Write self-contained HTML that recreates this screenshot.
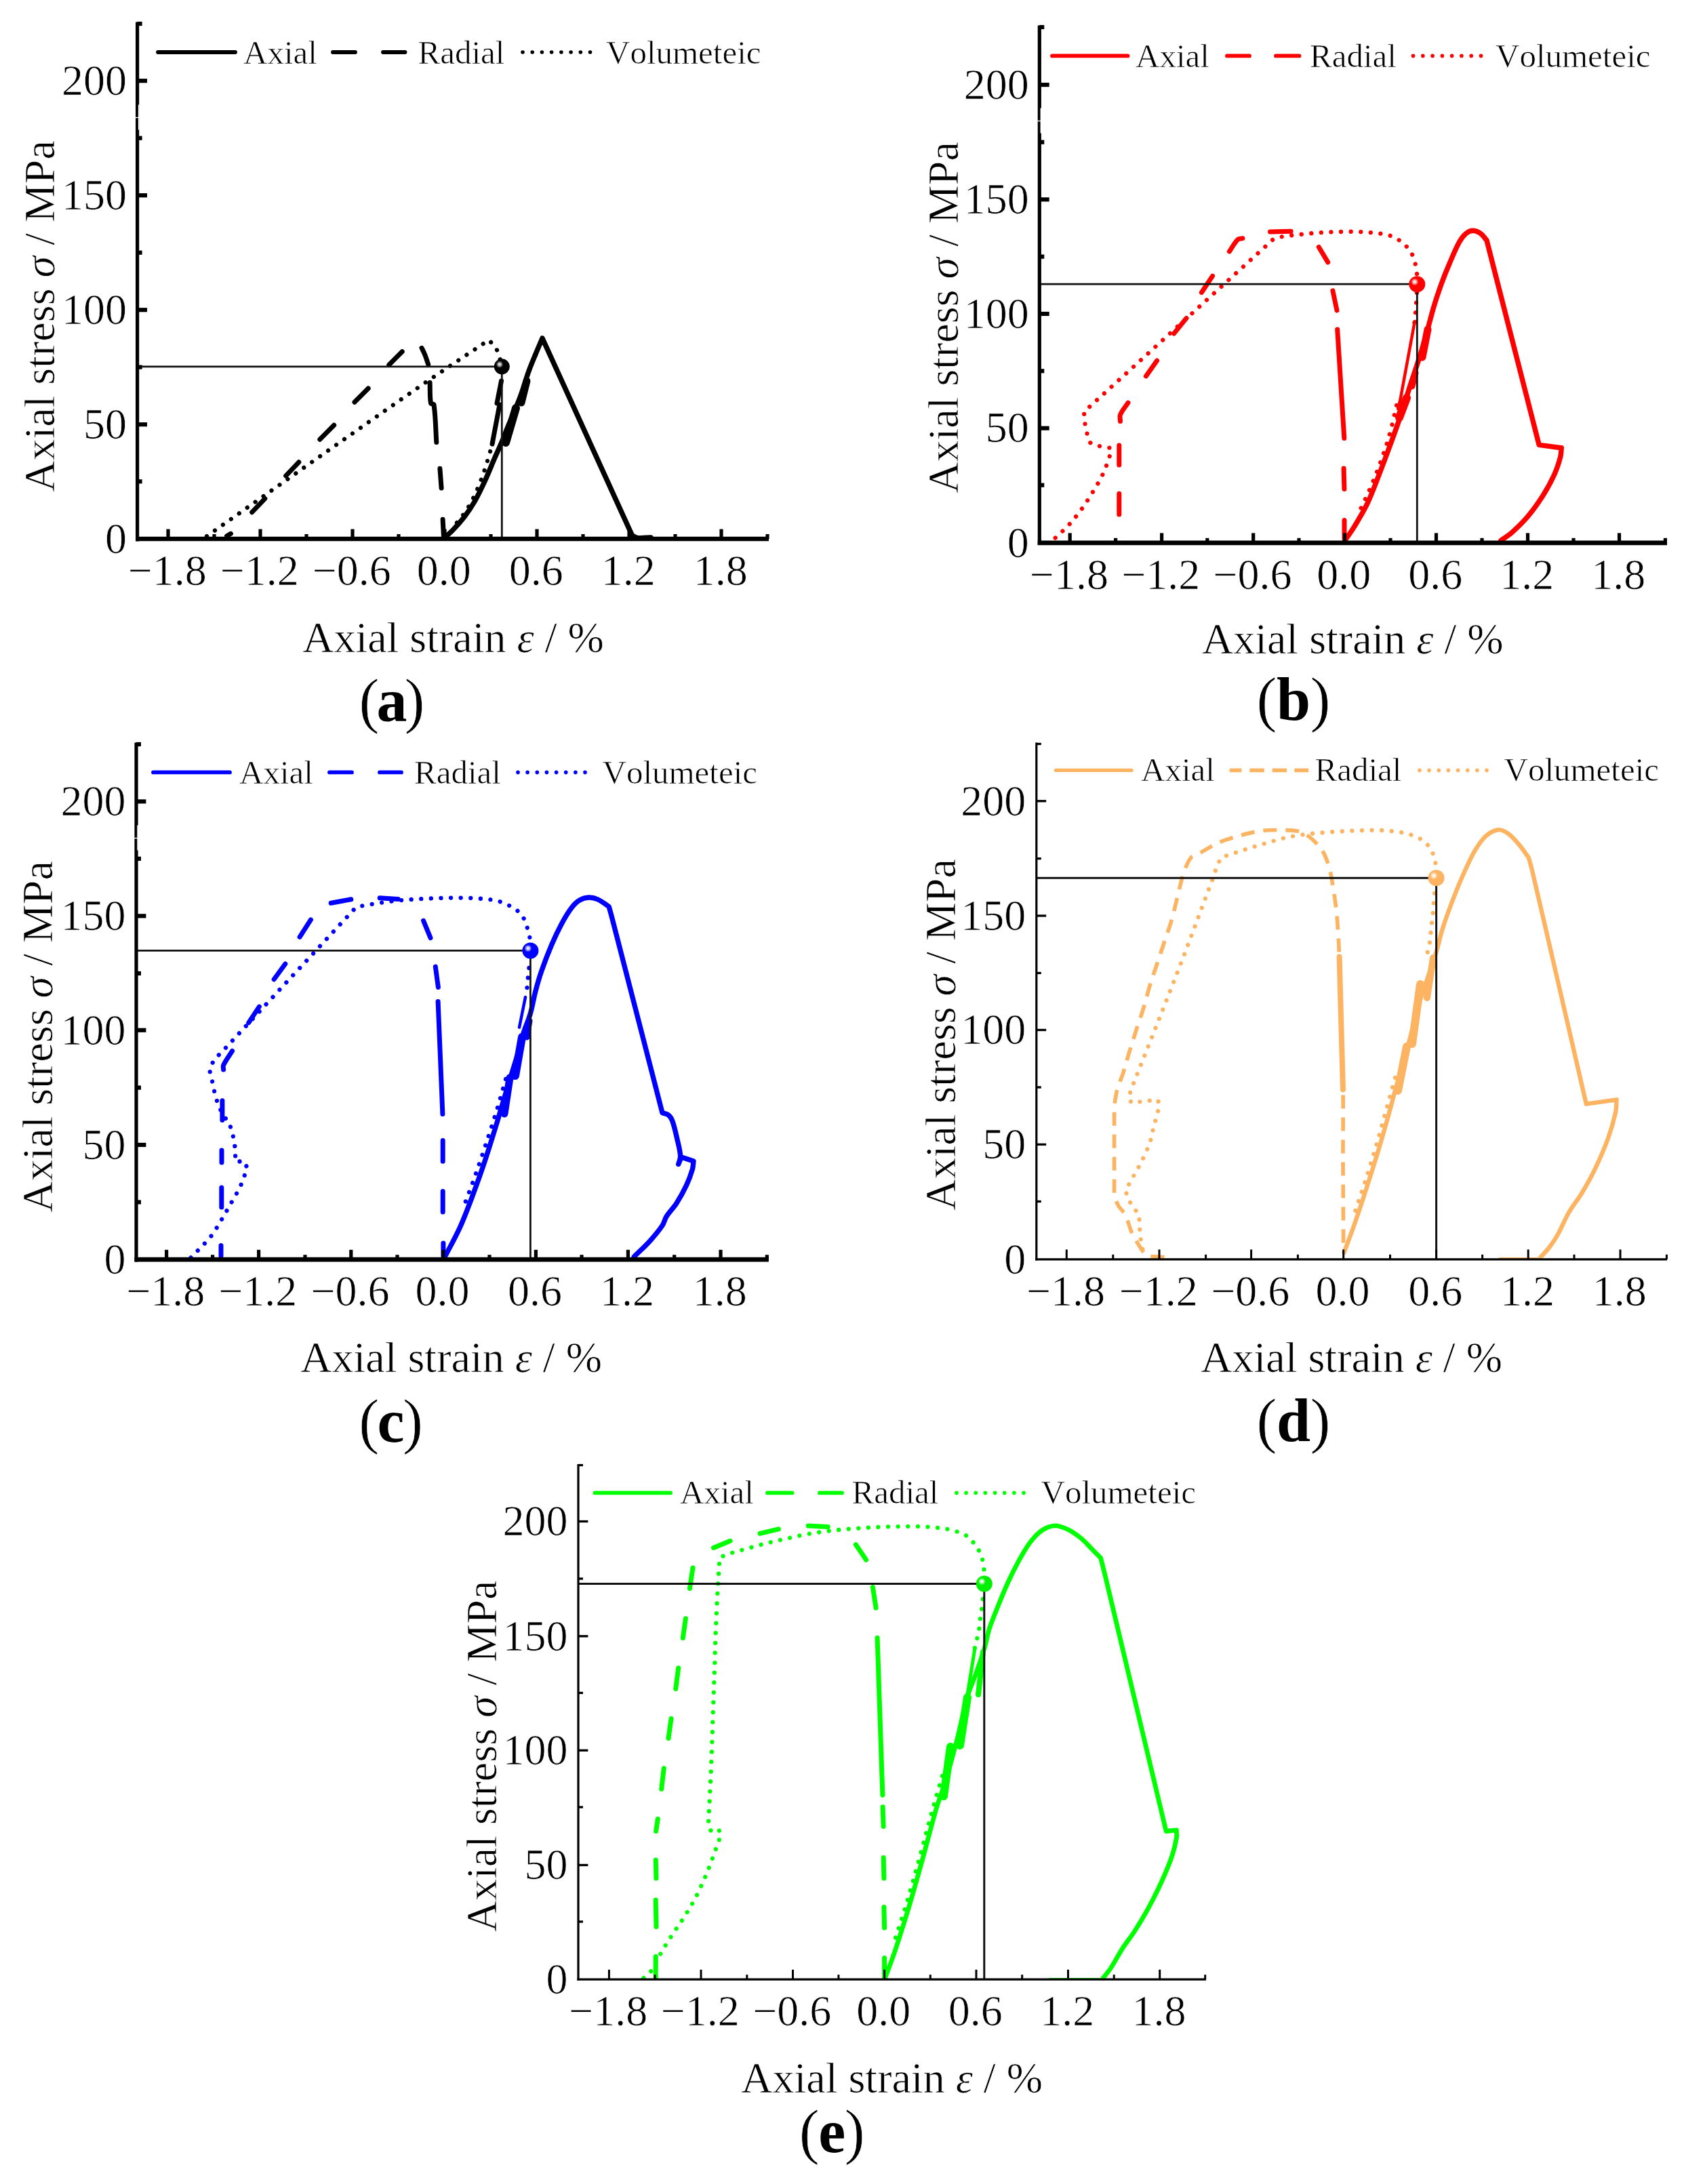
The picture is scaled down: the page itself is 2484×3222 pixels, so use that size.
<!DOCTYPE html>
<html lang="en"><head><meta charset="utf-8"><title>Stress-strain curves</title>
<style>
html,body{margin:0;padding:0;background:#fff;}
body{width:2484px;height:3222px;overflow:hidden;}
svg{display:block;filter:blur(0.55px);font-family:"Liberation Serif","DejaVu Serif",serif;fill:#000;font-kerning:none;font-variant-ligatures:none;}
text{stroke:#fff;stroke-width:0.7px;paint-order:fill stroke;}
</style></head><body>
<svg width="2484" height="3222" viewBox="0 0 2484 3222">
<rect width="2484" height="3222" fill="#fff"/>
<defs><radialGradient id="ga" cx="0.355" cy="0.36" r="0.75"><stop offset="0" stop-color="#f4f4f4"/><stop offset="0.11" stop-color="#c0c0c0"/><stop offset="0.31" stop-color="#000000"/><stop offset="1" stop-color="#000000"/></radialGradient><radialGradient id="gb" cx="0.355" cy="0.36" r="0.75"><stop offset="0" stop-color="#ffffff"/><stop offset="0.11" stop-color="#ffd0d0"/><stop offset="0.31" stop-color="#ff0000"/><stop offset="1" stop-color="#ff0000"/></radialGradient><radialGradient id="gc" cx="0.355" cy="0.36" r="0.75"><stop offset="0" stop-color="#ffffff"/><stop offset="0.11" stop-color="#d0d0ff"/><stop offset="0.31" stop-color="#0000ff"/><stop offset="1" stop-color="#0000ff"/></radialGradient><radialGradient id="gd" cx="0.355" cy="0.36" r="0.75"><stop offset="0" stop-color="#ffffff"/><stop offset="0.11" stop-color="#fff0e0"/><stop offset="0.31" stop-color="#fdb462"/><stop offset="1" stop-color="#fdb462"/></radialGradient><radialGradient id="ge" cx="0.355" cy="0.36" r="0.75"><stop offset="0" stop-color="#ffffff"/><stop offset="0.11" stop-color="#d8ffd8"/><stop offset="0.31" stop-color="#00f000"/><stop offset="1" stop-color="#00f000"/></radialGradient></defs>
<g id="panel-a">
<path d="M305,791C408.3,718.3 511.3,645.1 615,573C650,548.7 685.7,525.4 721,501.6C724.2,505.2 728,508.3 730.7,512.3C733.1,515.9 734.6,520 736,524.1C737.5,528.6 738.3,533.4 739.5,538" fill="none" stroke="#000000" stroke-width="6.3" stroke-linecap="round" stroke-linejoin="round" stroke-dasharray="0.01 14.6"/>
<path d="M727,652C724.3,661.3 721.9,670.7 719,680C716.2,689.1 713.4,698.1 710,707C706.1,717.2 701.9,727.3 697,737C692.9,745 688.2,752.7 683,760C678.5,766.4 673,772 668,778" fill="none" stroke="#000000" stroke-width="6.3" stroke-linecap="round" stroke-linejoin="round" stroke-dasharray="0.01 14.6"/>
<path d="M726,655L737,597" fill="none" stroke="#000000" stroke-width="7" stroke-linecap="round"/>
<path d="M733,595L739.5,562" fill="none" stroke="#000000" stroke-width="7" stroke-linecap="round"/>
<path d="M334.6,790.7L340.4,787.3" fill="none" stroke="#000000" stroke-width="7" stroke-linecap="round" stroke-linejoin="round"/>
<path d="M371.7,755.7L390.8,735.6" fill="none" stroke="#000000" stroke-width="7" stroke-linecap="round" stroke-linejoin="round"/>
<path d="M421.7,701.9L440.8,681.8" fill="none" stroke="#000000" stroke-width="7" stroke-linecap="round" stroke-linejoin="round"/>
<path d="M471.8,648.2L492.7,627.3" fill="none" stroke="#000000" stroke-width="7" stroke-linecap="round" stroke-linejoin="round"/>
<path d="M523,593.2L543.2,573" fill="none" stroke="#000000" stroke-width="7" stroke-linecap="round" stroke-linejoin="round"/>
<path d="M573.8,538.2L593.2,518.8" fill="none" stroke="#000000" stroke-width="7" stroke-linecap="round" stroke-linejoin="round"/>
<path d="M622,513.3C623.7,516.8 625.6,520.3 627,524C628.8,528.5 630.1,533.1 631.7,537.6" fill="none" stroke="#000000" stroke-width="7" stroke-linecap="round" stroke-linejoin="round"/>
<path d="M634.1,564.5C634.6,574.7 633.7,585 635.5,595C635.8,596.6 639.8,595.4 640,597C642.7,615.4 642.6,634 643.8,652.5" fill="none" stroke="#000000" stroke-width="7" stroke-linecap="round" stroke-linejoin="round"/>
<path d="M648.9,691.2L651.1,720" fill="none" stroke="#000000" stroke-width="7" stroke-linecap="round" stroke-linejoin="round"/>
<path d="M653.1,766.2L654.4,790.5" fill="none" stroke="#000000" stroke-width="7" stroke-linecap="round" stroke-linejoin="round"/>
<path d="M655.5,793C659.5,789.5 663.8,786.3 667.5,782.5C673.7,776.1 679.6,769.5 685,762.5C690.5,755.3 695.5,747.8 700,740C705.5,730.3 710.3,720.2 715,710C720.3,698.5 724.9,686.6 730,675C733.3,667.5 736.8,660.1 740,652.5C743.5,644.2 746.6,635.8 750,627.5C755.8,613.3 762.1,599.3 767.5,585C772.1,572.7 775.5,559.9 780,547.5C783,539.1 786.6,530.8 790,522.5C793.2,514.6 796.7,506.8 800,499L932.5,790C935,791.2 937.3,793.2 940,793.5C946.6,794.2 953.3,793.2 960,793" fill="none" stroke="#000000" stroke-width="7.5" stroke-linejoin="round" stroke-linecap="round"/>
<path d="M746,653L761,602" fill="none" stroke="#000000" stroke-width="12" stroke-linecap="round" stroke-linejoin="round"/>
<path d="M769,594L777,562" fill="none" stroke="#000000" stroke-width="11" stroke-linecap="round" stroke-linejoin="round"/>
<line x1="202.6" y1="540.8" x2="740.3" y2="540.8" stroke="#111" stroke-width="2.8" />
<line x1="740.3" y1="540.8" x2="740.3" y2="795" stroke="#111" stroke-width="2.8" />
<line x1="202.6" y1="32.5" x2="202.6" y2="798.4" stroke="#000" stroke-width="5.2" />
<line x1="200" y1="795" x2="1134" y2="795" stroke="#000" stroke-width="6.7" />
<line x1="248" y1="795" x2="248" y2="780.6" stroke="#000" stroke-width="5.2" />
<line x1="384" y1="795" x2="384" y2="780.6" stroke="#000" stroke-width="5.2" />
<line x1="520" y1="795" x2="520" y2="780.6" stroke="#000" stroke-width="5.2" />
<line x1="656" y1="795" x2="656" y2="780.6" stroke="#000" stroke-width="5.2" />
<line x1="792" y1="795" x2="792" y2="780.6" stroke="#000" stroke-width="5.2" />
<line x1="928" y1="795" x2="928" y2="780.6" stroke="#000" stroke-width="5.2" />
<line x1="1064" y1="795" x2="1064" y2="780.6" stroke="#000" stroke-width="5.2" />
<line x1="316" y1="795" x2="316" y2="788" stroke="#000" stroke-width="5.2" />
<line x1="452" y1="795" x2="452" y2="788" stroke="#000" stroke-width="5.2" />
<line x1="588" y1="795" x2="588" y2="788" stroke="#000" stroke-width="5.2" />
<line x1="724" y1="795" x2="724" y2="788" stroke="#000" stroke-width="5.2" />
<line x1="860" y1="795" x2="860" y2="788" stroke="#000" stroke-width="5.2" />
<line x1="996" y1="795" x2="996" y2="788" stroke="#000" stroke-width="5.2" />
<line x1="1132" y1="795" x2="1132" y2="788" stroke="#000" stroke-width="5.2" />
<line x1="202.6" y1="626.2" x2="217" y2="626.2" stroke="#000" stroke-width="6.2" />
<line x1="202.6" y1="457.2" x2="217" y2="457.2" stroke="#000" stroke-width="6.2" />
<line x1="202.6" y1="288.2" x2="217" y2="288.2" stroke="#000" stroke-width="6.2" />
<line x1="202.6" y1="119.2" x2="217" y2="119.2" stroke="#000" stroke-width="6.2" />
<line x1="202.6" y1="710.3" x2="209.6" y2="710.3" stroke="#000" stroke-width="6.2" />
<line x1="202.6" y1="541.6" x2="209.6" y2="541.6" stroke="#000" stroke-width="6.2" />
<line x1="202.6" y1="372.7" x2="209.6" y2="372.7" stroke="#000" stroke-width="6.2" />
<line x1="202.6" y1="203.7" x2="209.6" y2="203.7" stroke="#000" stroke-width="6.2" />
<line x1="202.6" y1="35" x2="209.6" y2="35" stroke="#000" stroke-width="6.2" />
<rect x="203.9" y="154.5" width="1.6" height="37" fill="#fff"/>
<rect x="199.5" y="172.8" width="6.2" height="1.3" fill="#fff"/>
<circle cx="740.3" cy="540.8" r="11.5" fill="url(#ga)"/>
<text x="187.1" y="815.7" font-size="64" text-anchor="end" >0</text>
<text x="187.1" y="646.9" font-size="64" text-anchor="end" >50</text>
<text x="187.1" y="477.9" font-size="64" text-anchor="end" >100</text>
<text x="187.1" y="308.9" font-size="64" text-anchor="end" >150</text>
<text x="187.1" y="139.9" font-size="64" text-anchor="end" >200</text>
<text x="246.7" y="862.7" font-size="64" text-anchor="middle" >−1.8</text>
<text x="382.7" y="862.7" font-size="64" text-anchor="middle" >−1.2</text>
<text x="518.7" y="862.7" font-size="64" text-anchor="middle" >−0.6</text>
<text x="654.7" y="862.7" font-size="64" text-anchor="middle" >0.0</text>
<text x="790.7" y="862.7" font-size="64" text-anchor="middle" >0.6</text>
<text x="926.7" y="862.7" font-size="64" text-anchor="middle" >1.2</text>
<text x="1062.7" y="862.7" font-size="64" text-anchor="middle" >1.8</text>
<text x="668.5" y="962.4" font-size="64" text-anchor="middle" >Axial strain <tspan font-style="italic">ε</tspan> / %</text>
<text transform="translate(80,466.5) rotate(-90)" font-size="64" text-anchor="middle">Axial stress <tspan font-style="italic">σ</tspan> / MPa</text>
<text x="578" y="1064" font-size="90" text-anchor="middle">(<tspan font-weight="bold" stroke="none" dx="-4">a</tspan><tspan dx="-4">)</tspan></text>
<line x1="233" y1="77" x2="347" y2="77" stroke="#000000" stroke-width="5.8" stroke-linecap="round"/>
<line x1="491" y1="77" x2="524" y2="77" stroke="#000000" stroke-width="5.8" stroke-linecap="round"/>
<line x1="565" y1="77" x2="597.5" y2="77" stroke="#000000" stroke-width="5.8" stroke-linecap="round"/>
<circle cx="771" cy="77" r="2.8" fill="#000000"/>
<circle cx="785.2" cy="77" r="2.8" fill="#000000"/>
<circle cx="799.4" cy="77" r="2.8" fill="#000000"/>
<circle cx="813.6" cy="77" r="2.8" fill="#000000"/>
<circle cx="827.9" cy="77" r="2.8" fill="#000000"/>
<circle cx="842.1" cy="77" r="2.8" fill="#000000"/>
<circle cx="856.3" cy="77" r="2.8" fill="#000000"/>
<circle cx="870.5" cy="77" r="2.8" fill="#000000"/>
<text x="359" y="94.3" font-size="49" text-anchor="start" >Axial</text>
<text x="616.5" y="94.3" font-size="49" text-anchor="start" >Radial</text>
<text x="894" y="94.3" font-size="49" text-anchor="start" >Volumeteic</text>
</g>
<g id="panel-b">
<path d="M1556.7,793.5C1563.5,787 1570.7,780.9 1577,774C1583.6,766.7 1589.7,759 1595.5,751C1601.3,742.9 1606.6,734.5 1611.8,726C1616.8,717.8 1621.9,709.7 1626,701C1630.1,692.3 1633.6,683.2 1636.5,674C1637.8,669.8 1637.9,665.3 1638.6,661C1634.7,660.3 1630.9,659.8 1627,659C1622.3,658.1 1617.4,657.7 1613,656C1610.5,655 1607.9,653.4 1606.6,651C1604.4,646.7 1604.1,641.7 1603,637C1601.9,632 1600.7,627.1 1600,622C1599.3,617 1599.3,612 1599,607C1602.7,603.8 1606.4,600.8 1610,597.5C1699.7,515.9 1789.2,434.1 1878.8,352.4C1883.2,351.3 1887.5,349.7 1892,349C1901.6,347.5 1911.3,346.6 1921,345.6C1930.5,344.6 1939.9,343.6 1949.4,343C1958.9,342.4 1968.5,342.2 1978,342C1987.3,341.8 1996.7,341.6 2006,342C2015.6,342.4 2025.2,343.3 2034.8,344.5C2039.9,345.1 2045,345.8 2049.8,347.4C2054.6,349 2059.1,351.2 2063.3,354C2067.6,356.8 2071.5,360.2 2075,364C2078.2,367.4 2080.9,371.3 2083,375.5C2085.1,379.7 2086.4,384.4 2087.6,389C2088.8,393.6 2089.5,398.3 2090,403C2090.5,408 2090.3,413 2090.5,418" fill="none" stroke="#ff0000" stroke-width="6.3" stroke-linecap="round" stroke-linejoin="round" stroke-dasharray="0.01 14.6"/>
<path d="M2090,432C2089.7,437 2089.3,442 2089,447C2088.7,451.7 2088.4,456.3 2088,461C2087.6,465.7 2087.1,470.3 2086.5,475C2086.1,478 2085.5,481 2085,484" fill="none" stroke="#ff0000" stroke-width="6.3" stroke-linecap="round" stroke-linejoin="round" stroke-dasharray="0.01 14.6"/>
<path d="M2060,598C2056.7,612 2053.9,626.2 2050,640C2045.9,654.5 2041.1,668.8 2036,683C2031.1,696.5 2025.7,709.8 2020,723C2015.3,733.8 2010,744.3 2005,755" fill="none" stroke="#ff0000" stroke-width="6.3" stroke-linecap="round" stroke-linejoin="round" stroke-dasharray="0.01 14.6"/>
<path d="M2062,603C2063.3,597.7 2065,592.4 2066,587C2072.6,552.7 2078.6,518.3 2085,484C2085.6,480.7 2086.3,477.3 2087,474" fill="none" stroke="#ff0000" stroke-width="4.5" stroke-linecap="round"/>
<path d="M1650.8,728.3L1650.8,758.9" fill="none" stroke="#ff0000" stroke-width="7" stroke-linecap="round" stroke-linejoin="round"/>
<path d="M1650.8,657L1650.8,685.9" fill="none" stroke="#ff0000" stroke-width="7" stroke-linecap="round" stroke-linejoin="round"/>
<path d="M1652.5,621.5C1652.5,618.3 1651.2,614.8 1652.5,611.8C1655.2,605.3 1660.2,600 1664,594.1" fill="none" stroke="#ff0000" stroke-width="7" stroke-linecap="round" stroke-linejoin="round"/>
<path d="M1690.4,555L1706.6,532" fill="none" stroke="#ff0000" stroke-width="7" stroke-linecap="round" stroke-linejoin="round"/>
<path d="M1731.6,492.1L1750,469.4" fill="none" stroke="#ff0000" stroke-width="7" stroke-linecap="round" stroke-linejoin="round"/>
<path d="M1772.4,431.5L1788.6,407.1" fill="none" stroke="#ff0000" stroke-width="7" stroke-linecap="round" stroke-linejoin="round"/>
<path d="M1813.4,371C1817.5,365.1 1820.6,358.4 1825.7,353.4C1827.4,351.7 1830.5,352.2 1832.9,351.6" fill="none" stroke="#ff0000" stroke-width="7" stroke-linecap="round" stroke-linejoin="round"/>
<path d="M1873.5,342L1904.1,341.3" fill="none" stroke="#ff0000" stroke-width="7" stroke-linecap="round" stroke-linejoin="round"/>
<path d="M1945.3,364.5L1958.7,386.9" fill="none" stroke="#ff0000" stroke-width="7" stroke-linecap="round" stroke-linejoin="round"/>
<path d="M1965.9,428.9L1972,457.9" fill="none" stroke="#ff0000" stroke-width="7" stroke-linecap="round" stroke-linejoin="round"/>
<path d="M1972.7,486L1982.8,646.5" fill="none" stroke="#ff0000" stroke-width="7" stroke-linecap="round" stroke-linejoin="round"/>
<path d="M1982.1,690.9L1982.9,721.5" fill="none" stroke="#ff0000" stroke-width="7" stroke-linecap="round" stroke-linejoin="round"/>
<path d="M1983,767.5L1983,794.5" fill="none" stroke="#ff0000" stroke-width="7" stroke-linecap="round" stroke-linejoin="round"/>
<path d="M1983.5,798C1988.1,791.1 1993.1,784.5 1997.4,777.4C2004.3,766 2011.3,754.6 2017,742.6C2023.7,728.6 2028.9,713.9 2034.5,699.5C2040.4,684.2 2046.1,668.9 2051.7,653.5C2056.6,640.1 2061.5,626.8 2066,613.3C2071.1,598.1 2075.6,582.6 2080.5,567.3C2085.2,552.9 2090.3,538.7 2094.8,524.2C2098.9,510.9 2102.5,497.4 2106.3,484C2109.3,473.5 2111.8,462.8 2115,452.3C2118.5,440.7 2122.4,429.2 2126.5,417.8C2130,408.1 2133.9,398.5 2138,389C2142.5,378.4 2146.8,367.6 2152.3,357.5C2154.9,352.7 2158.2,348.1 2162.4,344.5C2165.2,342.1 2168.8,340.2 2172.5,340.2C2176.6,340.2 2180.7,342.1 2184,344.5C2187.7,347.1 2190,351.2 2193,354.6C2195.7,365.1 2198.3,375.5 2201,386C2224.1,476.1 2247.1,566.3 2270.2,656.4L2303.2,660.7C2302.7,665 2302.9,669.4 2301.8,673.6C2299.5,682.4 2296.7,691.2 2293,699.5C2288.1,710.4 2282.4,720.9 2276,731C2269,742 2261.4,752.7 2253,762.7C2246,771 2238.1,778.5 2230,785.7C2225.1,790.1 2219.3,793.4 2214,797.2" fill="none" stroke="#ff0000" stroke-width="7.5" stroke-linejoin="round" stroke-linecap="round"/>
<path d="M2064,616L2075,587" fill="none" stroke="#ff0000" stroke-width="12" stroke-linecap="round" stroke-linejoin="round"/>
<path d="M2083,570L2088,550" fill="none" stroke="#ff0000" stroke-width="9" stroke-linecap="round" stroke-linejoin="round"/>
<path d="M2098,527L2106,486" fill="none" stroke="#ff0000" stroke-width="11" stroke-linecap="round" stroke-linejoin="round"/>
<line x1="1533.3" y1="419.2" x2="2090.3" y2="419.2" stroke="#111" stroke-width="2.8" />
<line x1="2090.3" y1="419.2" x2="2090.3" y2="800.8" stroke="#111" stroke-width="2.8" />
<line x1="1533.3" y1="37.5" x2="1533.3" y2="804.1" stroke="#000" stroke-width="5.2" />
<line x1="1530.7" y1="800.8" x2="2459" y2="800.8" stroke="#000" stroke-width="6.7" />
<line x1="1578.2" y1="800.8" x2="1578.2" y2="786.4" stroke="#000" stroke-width="5.2" />
<line x1="1713.6" y1="800.8" x2="1713.6" y2="786.4" stroke="#000" stroke-width="5.2" />
<line x1="1848.7" y1="800.8" x2="1848.7" y2="786.4" stroke="#000" stroke-width="5.2" />
<line x1="1983.5" y1="800.8" x2="1983.5" y2="786.4" stroke="#000" stroke-width="5.2" />
<line x1="2118.5" y1="800.8" x2="2118.5" y2="786.4" stroke="#000" stroke-width="5.2" />
<line x1="2253.5" y1="800.8" x2="2253.5" y2="786.4" stroke="#000" stroke-width="5.2" />
<line x1="2388.5" y1="800.8" x2="2388.5" y2="786.4" stroke="#000" stroke-width="5.2" />
<line x1="1645.6" y1="800.8" x2="1645.6" y2="793.8" stroke="#000" stroke-width="5.2" />
<line x1="1780.8" y1="800.8" x2="1780.8" y2="793.8" stroke="#000" stroke-width="5.2" />
<line x1="1916" y1="800.8" x2="1916" y2="793.8" stroke="#000" stroke-width="5.2" />
<line x1="2051" y1="800.8" x2="2051" y2="793.8" stroke="#000" stroke-width="5.2" />
<line x1="2186" y1="800.8" x2="2186" y2="793.8" stroke="#000" stroke-width="5.2" />
<line x1="2321" y1="800.8" x2="2321" y2="793.8" stroke="#000" stroke-width="5.2" />
<line x1="2456.4" y1="800.8" x2="2456.4" y2="793.8" stroke="#000" stroke-width="5.2" />
<line x1="1533.3" y1="631.7" x2="1547.7" y2="631.7" stroke="#000" stroke-width="6.2" />
<line x1="1533.3" y1="463" x2="1547.7" y2="463" stroke="#000" stroke-width="6.2" />
<line x1="1533.3" y1="294.3" x2="1547.7" y2="294.3" stroke="#000" stroke-width="6.2" />
<line x1="1533.3" y1="125.1" x2="1547.7" y2="125.1" stroke="#000" stroke-width="6.2" />
<line x1="1533.3" y1="715.7" x2="1540.3" y2="715.7" stroke="#000" stroke-width="6.2" />
<line x1="1533.3" y1="547.3" x2="1540.3" y2="547.3" stroke="#000" stroke-width="6.2" />
<line x1="1533.3" y1="378.6" x2="1540.3" y2="378.6" stroke="#000" stroke-width="6.2" />
<line x1="1533.3" y1="209.7" x2="1540.3" y2="209.7" stroke="#000" stroke-width="6.2" />
<line x1="1533.3" y1="40" x2="1540.3" y2="40" stroke="#000" stroke-width="6.2" />
<rect x="1534.6" y="159.5" width="1.6" height="37" fill="#fff"/>
<rect x="1530.2" y="177.8" width="6.2" height="1.3" fill="#fff"/>
<circle cx="2090.3" cy="419.2" r="12" fill="url(#gb)"/>
<text x="1517.8" y="821.5" font-size="64" text-anchor="end" >0</text>
<text x="1517.8" y="652.4" font-size="64" text-anchor="end" >50</text>
<text x="1517.8" y="483.7" font-size="64" text-anchor="end" >100</text>
<text x="1517.8" y="315" font-size="64" text-anchor="end" >150</text>
<text x="1517.8" y="145.8" font-size="64" text-anchor="end" >200</text>
<text x="1576.9" y="868.5" font-size="64" text-anchor="middle" >−1.8</text>
<text x="1712.3" y="868.5" font-size="64" text-anchor="middle" >−1.2</text>
<text x="1847.4" y="868.5" font-size="64" text-anchor="middle" >−0.6</text>
<text x="1982.2" y="868.5" font-size="64" text-anchor="middle" >0.0</text>
<text x="2117.2" y="868.5" font-size="64" text-anchor="middle" >0.6</text>
<text x="2252.2" y="868.5" font-size="64" text-anchor="middle" >1.2</text>
<text x="2387.2" y="868.5" font-size="64" text-anchor="middle" >1.8</text>
<text x="1995.3" y="964.2" font-size="64" text-anchor="middle" >Axial strain <tspan font-style="italic">ε</tspan> / %</text>
<text transform="translate(1412.7,468.5) rotate(-90)" font-size="64" text-anchor="middle">Axial stress <tspan font-style="italic">σ</tspan> / MPa</text>
<text x="1908" y="1062.2" font-size="90" text-anchor="middle">(<tspan font-weight="bold" stroke="none" dx="-0.5">b</tspan><tspan dx="-0.5">)</tspan></text>
<line x1="1552" y1="82.4" x2="1663.5" y2="82.4" stroke="#ff0000" stroke-width="5.8" stroke-linecap="round"/>
<line x1="1810" y1="82.4" x2="1843" y2="82.4" stroke="#ff0000" stroke-width="5.8" stroke-linecap="round"/>
<line x1="1882" y1="82.4" x2="1916.5" y2="82.4" stroke="#ff0000" stroke-width="5.8" stroke-linecap="round"/>
<circle cx="2084.5" cy="82.4" r="2.8" fill="#ff0000"/>
<circle cx="2098.8" cy="82.4" r="2.8" fill="#ff0000"/>
<circle cx="2113.1" cy="82.4" r="2.8" fill="#ff0000"/>
<circle cx="2127.4" cy="82.4" r="2.8" fill="#ff0000"/>
<circle cx="2141.6" cy="82.4" r="2.8" fill="#ff0000"/>
<circle cx="2155.9" cy="82.4" r="2.8" fill="#ff0000"/>
<circle cx="2170.2" cy="82.4" r="2.8" fill="#ff0000"/>
<circle cx="2184.5" cy="82.4" r="2.8" fill="#ff0000"/>
<text x="1675" y="99" font-size="49" text-anchor="start" >Axial</text>
<text x="1932" y="99" font-size="49" text-anchor="start" >Radial</text>
<text x="2206" y="99" font-size="49" text-anchor="start" >Volumeteic</text>
</g>
<g id="panel-c">
<path d="M281.5,1855.4C291.3,1845.1 301.8,1835.4 310.8,1824.4C316.7,1817.1 321.1,1808.6 326,1800.6C331.2,1792 336.1,1783.3 341,1774.6C345.6,1766.4 350.7,1758.5 354.6,1750C358.6,1741.3 361.3,1732 364.6,1723L360,1713L347.5,1714C346.9,1704.5 347.2,1694.9 345.7,1685.5C344.2,1675.8 340.9,1666.5 338.5,1657C335.3,1652.8 331.5,1649.1 329,1644.5C324.9,1637 321.6,1629.1 319,1621C316.1,1611.9 314.7,1602.3 312.5,1593C311.4,1588.2 310.2,1583.4 309,1578.6C311.1,1574.1 312.4,1569 315.4,1565C321.4,1557 328.9,1550.3 335.7,1543L525.6,1338C535.1,1336.3 544.5,1334.5 554,1333C563.5,1331.5 573,1330.1 582.6,1329C592,1328 601.5,1327.3 611,1326.7C620.5,1326.1 630.1,1325.7 639.6,1325.3C649.1,1325 658.5,1324.6 668,1324.6C677.5,1324.5 687.1,1324.5 696.6,1325C706.1,1325.5 715.6,1326.1 725,1327.4C730.1,1328.1 735.1,1329.3 740,1331C744.7,1332.7 749.3,1334.9 753.6,1337.4C758,1339.9 762.4,1342.5 766,1346C769.3,1349.3 771.9,1353.4 774,1357.7C776.2,1362.2 777.3,1367.2 778.6,1372C779.9,1376.5 781.2,1381 781.8,1385.6C782.5,1391 782.2,1396.5 782.4,1402" fill="none" stroke="#0000ff" stroke-width="6.3" stroke-linecap="round" stroke-linejoin="round" stroke-dasharray="0.01 14.6"/>
<path d="M780.4,1428C779.9,1432.5 779.4,1437 778.9,1441.5C778.4,1446.9 778.2,1452.4 777.4,1457.8C776.7,1462.3 775.4,1466.6 774.4,1471" fill="none" stroke="#0000ff" stroke-width="6.3" stroke-linecap="round" stroke-linejoin="round" stroke-dasharray="0.01 14.6"/>
<path d="M746,1592C741.7,1607 737.6,1622.1 733,1637C727.6,1654.7 721.8,1672.4 716,1690C710.8,1705.7 705.5,1721.4 700,1737C694.9,1751.4 689.3,1765.7 684,1780" fill="none" stroke="#0000ff" stroke-width="6.3" stroke-linecap="round" stroke-linejoin="round" stroke-dasharray="0.01 14.6"/>
<path d="M766,1515.6L775,1471" fill="none" stroke="#0000ff" stroke-width="4.5" stroke-linecap="round"/>
<path d="M326,1837.5L326,1852.9" fill="none" stroke="#0000ff" stroke-width="7" stroke-linecap="round" stroke-linejoin="round"/>
<path d="M326.8,1752.1L326.8,1781" fill="none" stroke="#0000ff" stroke-width="7" stroke-linecap="round" stroke-linejoin="round"/>
<path d="M327,1696.9L327,1715" fill="none" stroke="#0000ff" stroke-width="7" stroke-linecap="round" stroke-linejoin="round"/>
<path d="M327.9,1623.8L327.9,1652.5" fill="none" stroke="#0000ff" stroke-width="7" stroke-linecap="round" stroke-linejoin="round"/>
<path d="M329.6,1577.9C329.6,1575.8 328.7,1573.4 329.6,1571.5C333.1,1564 338.3,1557.5 342.6,1550.4" fill="none" stroke="#0000ff" stroke-width="7" stroke-linecap="round" stroke-linejoin="round"/>
<path d="M366.7,1508.9L382.4,1485.1" fill="none" stroke="#0000ff" stroke-width="7" stroke-linecap="round" stroke-linejoin="round"/>
<path d="M404.2,1444.8L420.8,1422" fill="none" stroke="#0000ff" stroke-width="7" stroke-linecap="round" stroke-linejoin="round"/>
<path d="M442.1,1382.3L458.4,1356.9" fill="none" stroke="#0000ff" stroke-width="7" stroke-linecap="round" stroke-linejoin="round"/>
<path d="M488.2,1332.3L517.8,1326.8" fill="none" stroke="#0000ff" stroke-width="7" stroke-linecap="round" stroke-linejoin="round"/>
<path d="M560.2,1324.8L587.2,1326.5" fill="none" stroke="#0000ff" stroke-width="7" stroke-linecap="round" stroke-linejoin="round"/>
<path d="M624.6,1358.3L635,1383.7" fill="none" stroke="#0000ff" stroke-width="7" stroke-linecap="round" stroke-linejoin="round"/>
<path d="M642.3,1426.1L646.4,1456.5" fill="none" stroke="#0000ff" stroke-width="7" stroke-linecap="round" stroke-linejoin="round"/>
<path d="M646.1,1477.5L652.9,1643.5" fill="none" stroke="#0000ff" stroke-width="7" stroke-linecap="round" stroke-linejoin="round"/>
<path d="M653.2,1682.5L653.2,1713.3" fill="none" stroke="#0000ff" stroke-width="7" stroke-linecap="round" stroke-linejoin="round"/>
<path d="M653.2,1757.5L653.2,1788.1" fill="none" stroke="#0000ff" stroke-width="7" stroke-linecap="round" stroke-linejoin="round"/>
<path d="M653.9,1834.1L653.9,1852.9" fill="none" stroke="#0000ff" stroke-width="7" stroke-linecap="round" stroke-linejoin="round"/>
<path d="M655.6,1855.4C663.3,1840.3 671.8,1825.5 678.8,1810C685.9,1794.3 691.8,1778.1 697.8,1762C704,1745.3 710,1728.5 715.6,1711.6C721.8,1692.8 727.6,1673.9 733.4,1655C738.5,1638.3 743.2,1621.4 748.3,1604.7C753.1,1588.8 758.3,1573 763,1557C766.2,1546.3 768.7,1535.3 772,1524.6C775.1,1514.6 779.5,1505.1 782.4,1495C785.5,1484.2 787.1,1472.9 790,1462C792.6,1452.1 795.4,1442.2 798.8,1432.5C803.3,1419.5 808.2,1406.7 813.6,1394C818.1,1383.4 823,1372.9 828.5,1362.7C832.9,1354.5 837.6,1346.4 843.3,1339C846.5,1334.7 850.4,1330.7 855,1328C859,1325.6 863.8,1324.2 868.5,1324C873.1,1323.8 877.8,1325.1 882,1327C887.9,1329.7 892.8,1334 898.2,1337.5C899.7,1342.9 901.3,1348.3 902.7,1353.8C927.6,1449.8 952.2,1545.8 977,1641.8C979.9,1642.8 983.4,1642.9 985.8,1644.8C988.6,1647 990.6,1650.3 991.8,1653.7C995.1,1662.9 997,1672.5 999.2,1682C1001,1689.8 1003.3,1697.7 1003.6,1705.7C1003.8,1709.8 1001.7,1713.6 1000.7,1717.6L1005,1707L1023,1713C1022.5,1717 1022.5,1721.1 1021.4,1725C1019,1733.1 1016.1,1741.1 1012.5,1748.7C1008.2,1757.9 1003.2,1766.9 997.7,1775.5C993.3,1782.3 987.3,1788 983,1794.8C980.4,1798.9 979.7,1804 977,1808C971.6,1815.9 965.4,1823.3 959,1830.4C951.5,1838.7 943.2,1846.1 935.3,1854" fill="none" stroke="#0000ff" stroke-width="7.4" stroke-linejoin="round" stroke-linecap="round"/>
<path d="M744,1643L752,1590" fill="none" stroke="#0000ff" stroke-width="11" stroke-linecap="round" stroke-linejoin="round"/>
<path d="M760,1587L770,1530" fill="none" stroke="#0000ff" stroke-width="12" stroke-linecap="round" stroke-linejoin="round"/>
<path d="M777,1530L781,1506" fill="none" stroke="#0000ff" stroke-width="9" stroke-linecap="round" stroke-linejoin="round"/>
<line x1="201" y1="1402.4" x2="782.4" y2="1402.4" stroke="#111" stroke-width="2.8" />
<line x1="782.4" y1="1402.4" x2="782.4" y2="1858.2" stroke="#111" stroke-width="2.8" />
<line x1="201" y1="1095.5" x2="201" y2="1861.5" stroke="#000" stroke-width="5.2" />
<line x1="198.4" y1="1858.2" x2="1133.9" y2="1858.2" stroke="#000" stroke-width="6.7" />
<line x1="245.6" y1="1858.2" x2="245.6" y2="1843.8" stroke="#000" stroke-width="5.2" />
<line x1="381.6" y1="1858.2" x2="381.6" y2="1843.8" stroke="#000" stroke-width="5.2" />
<line x1="517.8" y1="1858.2" x2="517.8" y2="1843.8" stroke="#000" stroke-width="5.2" />
<line x1="653.9" y1="1858.2" x2="653.9" y2="1843.8" stroke="#000" stroke-width="5.2" />
<line x1="790.4" y1="1858.2" x2="790.4" y2="1843.8" stroke="#000" stroke-width="5.2" />
<line x1="926.4" y1="1858.2" x2="926.4" y2="1843.8" stroke="#000" stroke-width="5.2" />
<line x1="1063" y1="1858.2" x2="1063" y2="1843.8" stroke="#000" stroke-width="5.2" />
<line x1="313.6" y1="1858.2" x2="313.6" y2="1851.2" stroke="#000" stroke-width="5.2" />
<line x1="450" y1="1858.2" x2="450" y2="1851.2" stroke="#000" stroke-width="5.2" />
<line x1="586" y1="1858.2" x2="586" y2="1851.2" stroke="#000" stroke-width="5.2" />
<line x1="722" y1="1858.2" x2="722" y2="1851.2" stroke="#000" stroke-width="5.2" />
<line x1="858" y1="1858.2" x2="858" y2="1851.2" stroke="#000" stroke-width="5.2" />
<line x1="994.7" y1="1858.2" x2="994.7" y2="1851.2" stroke="#000" stroke-width="5.2" />
<line x1="1131.3" y1="1858.2" x2="1131.3" y2="1851.2" stroke="#000" stroke-width="5.2" />
<line x1="201" y1="1689" x2="215.4" y2="1689" stroke="#000" stroke-width="6.2" />
<line x1="201" y1="1519.8" x2="215.4" y2="1519.8" stroke="#000" stroke-width="6.2" />
<line x1="201" y1="1351.3" x2="215.4" y2="1351.3" stroke="#000" stroke-width="6.2" />
<line x1="201" y1="1182.4" x2="215.4" y2="1182.4" stroke="#000" stroke-width="6.2" />
<line x1="201" y1="1773.5" x2="208" y2="1773.5" stroke="#000" stroke-width="6.2" />
<line x1="201" y1="1604.6" x2="208" y2="1604.6" stroke="#000" stroke-width="6.2" />
<line x1="201" y1="1436" x2="208" y2="1436" stroke="#000" stroke-width="6.2" />
<line x1="201" y1="1266.8" x2="208" y2="1266.8" stroke="#000" stroke-width="6.2" />
<line x1="201" y1="1098" x2="208" y2="1098" stroke="#000" stroke-width="6.2" />
<rect x="202.3" y="1217.5" width="1.6" height="37" fill="#fff"/>
<rect x="197.9" y="1235.8" width="6.2" height="1.3" fill="#fff"/>
<circle cx="782.4" cy="1402.4" r="12" fill="url(#gc)"/>
<text x="185.5" y="1878.9" font-size="64" text-anchor="end" >0</text>
<text x="185.5" y="1709.7" font-size="64" text-anchor="end" >50</text>
<text x="185.5" y="1540.5" font-size="64" text-anchor="end" >100</text>
<text x="185.5" y="1372" font-size="64" text-anchor="end" >150</text>
<text x="185.5" y="1203.1" font-size="64" text-anchor="end" >200</text>
<text x="244.3" y="1925.9" font-size="64" text-anchor="middle" >−1.8</text>
<text x="380.3" y="1925.9" font-size="64" text-anchor="middle" >−1.2</text>
<text x="516.5" y="1925.9" font-size="64" text-anchor="middle" >−0.6</text>
<text x="652.6" y="1925.9" font-size="64" text-anchor="middle" >0.0</text>
<text x="789.1" y="1925.9" font-size="64" text-anchor="middle" >0.6</text>
<text x="925.1" y="1925.9" font-size="64" text-anchor="middle" >1.2</text>
<text x="1061.7" y="1925.9" font-size="64" text-anchor="middle" >1.8</text>
<text x="665.6" y="2024.4" font-size="64" text-anchor="middle" >Axial strain <tspan font-style="italic">ε</tspan> / %</text>
<text transform="translate(77,1529.5) rotate(-90)" font-size="64" text-anchor="middle">Axial stress <tspan font-style="italic">σ</tspan> / MPa</text>
<text x="576.6" y="2127" font-size="90" text-anchor="middle">(<tspan font-weight="bold" stroke="none" dx="-2.5">c</tspan><tspan dx="-2.5">)</tspan></text>
<line x1="226" y1="1139.4" x2="339" y2="1139.4" stroke="#0000ff" stroke-width="5.8" stroke-linecap="round"/>
<line x1="486" y1="1139.4" x2="519" y2="1139.4" stroke="#0000ff" stroke-width="5.8" stroke-linecap="round"/>
<line x1="560" y1="1139.4" x2="592" y2="1139.4" stroke="#0000ff" stroke-width="5.8" stroke-linecap="round"/>
<circle cx="764" cy="1139.4" r="2.8" fill="#0000ff"/>
<circle cx="778.1" cy="1139.4" r="2.8" fill="#0000ff"/>
<circle cx="792.3" cy="1139.4" r="2.8" fill="#0000ff"/>
<circle cx="806.4" cy="1139.4" r="2.8" fill="#0000ff"/>
<circle cx="820.6" cy="1139.4" r="2.8" fill="#0000ff"/>
<circle cx="834.7" cy="1139.4" r="2.8" fill="#0000ff"/>
<circle cx="848.9" cy="1139.4" r="2.8" fill="#0000ff"/>
<circle cx="863" cy="1139.4" r="2.8" fill="#0000ff"/>
<text x="353" y="1156" font-size="49" text-anchor="start" >Axial</text>
<text x="611" y="1156" font-size="49" text-anchor="start" >Radial</text>
<text x="888.5" y="1156" font-size="49" text-anchor="start" >Volumeteic</text>
</g>
<g id="panel-d">
<path d="M1685.3,1842.7C1684.1,1835.6 1682.5,1828.5 1681.7,1821.3C1681.1,1816 1681.3,1810.6 1681,1805.3C1680.8,1801.1 1680.3,1797 1680,1792.8C1677.6,1789.2 1675.2,1785.6 1672.8,1782C1670.4,1778.5 1667.6,1775.2 1665.7,1771.4C1663.4,1766.8 1662.1,1761.8 1660.3,1757C1662.7,1752.3 1665,1747.6 1667.5,1743C1672.7,1733.4 1678.6,1724.2 1683.5,1714.4C1688.1,1705.1 1692.5,1695.7 1696,1686C1698.5,1679 1699.4,1671.6 1701.3,1664.5C1703.9,1654.4 1706.8,1644.4 1709.5,1634.3L1708.4,1622.9C1704.3,1623.1 1700.1,1623.2 1696,1623.6C1687,1624.5 1678.1,1625.9 1669.2,1627L1664.6,1620C1666.1,1615.3 1667.4,1610.4 1669.2,1605.8C1677.9,1583.1 1687.1,1560.6 1696,1538C1704.9,1515.5 1713.9,1493 1722.7,1470.4C1731.7,1447.5 1740.6,1424.6 1749.4,1401.6C1758.1,1378.9 1766.5,1356 1775,1333.2C1780.1,1319.5 1785.4,1305.9 1790.4,1292.2C1792.3,1286.9 1793.5,1281.4 1795.7,1276.2C1797.4,1272.2 1799.9,1268.6 1802,1264.8C1806.4,1263.3 1810.8,1261.7 1815.3,1260.2C1824.4,1257.2 1833.6,1254.2 1842.8,1251.3C1852,1248.4 1861.2,1245.7 1870.5,1243C1880,1240.3 1889.4,1237.3 1899,1235.2C1908.4,1233.2 1918,1231.8 1927.6,1230.6C1937,1229.4 1946.5,1228.8 1956,1228C1965.5,1227.2 1975.1,1226.5 1984.6,1226C1994.1,1225.5 2003.5,1225.1 2013,1225C2022.5,1224.9 2032.1,1224.6 2041.6,1225.2C2051.1,1225.8 2060.6,1226.9 2070,1228.5C2074.9,1229.4 2079.7,1230.9 2084.3,1232.7C2089.3,1234.7 2094.3,1236.8 2098.6,1239.9C2102.6,1242.8 2106.2,1246.4 2109,1250.5C2111.8,1254.6 2113.8,1259.3 2115.4,1264C2116.9,1268.4 2117.5,1273.1 2118,1277.8C2118.6,1283.5 2118.4,1289.3 2118.6,1295" fill="none" stroke="#fdb462" stroke-width="6.3" stroke-linecap="round" stroke-linejoin="round" stroke-dasharray="0.01 14.6"/>
<path d="M2116,1317.8C2115.6,1322.6 2115.2,1327.4 2114.8,1332.2C2114.4,1337 2114.2,1341.9 2113.8,1346.7C2113.4,1351.3 2112.7,1355.8 2112.2,1360.4C2111.7,1365.1 2111.1,1369.9 2110.6,1374.6C2110,1379.7 2109.8,1384.9 2109,1390C2108.2,1394.9 2107.1,1399.6 2105.8,1404.4C2104.9,1407.7 2103.7,1410.8 2102.6,1414" fill="none" stroke="#fdb462" stroke-width="6.3" stroke-linecap="round" stroke-linejoin="round" stroke-dasharray="0.01 14.6"/>
<path d="M2058,1590C2053.3,1606.7 2048.7,1623.3 2044,1640C2039.3,1656.7 2034.9,1673.4 2030,1690C2024.9,1707.4 2019.5,1724.7 2014,1742C2008.9,1758.1 2003.3,1774 1998,1790" fill="none" stroke="#fdb462" stroke-width="6.3" stroke-linecap="round" stroke-linejoin="round" stroke-dasharray="0.01 14.6"/>
<path d="M1975.6,1411.6C1976.4,1441.1 1977.2,1470.5 1978,1500C1979,1535.8 1980,1571.7 1981,1607.5" fill="none" stroke="#fdb462" stroke-width="8" stroke-linecap="round"/>
<path d="M1717.3,1854.5L1692.4,1853.4C1689.4,1849.8 1686,1846.6 1683.5,1842.7C1678.3,1834.7 1673.2,1826.4 1669.2,1817.7C1665.5,1809.7 1664.2,1800.7 1660.3,1792.8C1657.6,1787.5 1652.6,1783.7 1649.6,1778.6C1647,1774.1 1645.6,1769.1 1643.6,1764.3L1643.6,1630.7C1645.1,1623 1645.9,1615.1 1648,1607.5C1650.3,1599 1654.1,1591 1656.8,1582.6C1660,1572.6 1662.6,1562.4 1665.7,1552.3C1669.2,1541 1672.8,1529.7 1676.4,1518.5C1679.9,1507.8 1683.7,1497.2 1687,1486.4C1690.2,1475.8 1692.8,1464.9 1696,1454.3C1699.3,1443.6 1703.1,1433 1706.6,1422.3C1710.2,1411.6 1713.7,1400.9 1717.3,1390.2C1720.9,1379.5 1724.8,1368.9 1728,1358C1731.4,1346.3 1734,1334.3 1737,1322.5C1739.4,1313 1741.4,1303.4 1744,1294C1745,1290.4 1746.1,1286.7 1747.6,1283.3C1750.3,1277.2 1752.2,1270.6 1756.5,1265.5C1759.1,1262.4 1763.7,1261.9 1767.2,1260C1776.8,1254.8 1785.8,1248.6 1795.7,1244C1803.7,1240.3 1812.2,1237.7 1820.7,1235.2C1832.4,1231.8 1844.2,1228.2 1856.3,1226.3C1866.9,1224.6 1877.7,1224.5 1888.4,1224.5C1897.3,1224.5 1906.3,1224.7 1915,1226.3C1919.5,1227.1 1923.8,1229.1 1927.6,1231.7C1933.5,1235.8 1938.7,1240.8 1943.6,1246C1947.1,1249.7 1950.1,1253.9 1952.5,1258.4C1955.5,1264 1957.6,1270.1 1959.6,1276.2C1961.2,1280.9 1962.3,1285.7 1963.2,1290.5C1965.2,1301.1 1966.9,1311.8 1968.5,1322.5C1969.9,1332 1971.1,1341.5 1972,1351C1973.2,1364 1973.8,1377.1 1974.6,1390.2C1975,1397.3 1975.4,1404.5 1975.6,1411.6C1976.5,1441.1 1977.2,1470.5 1978,1500C1979,1535.8 1980.5,1571.7 1981,1607.5C1981.5,1638.3 1980.9,1669.2 1981,1700C1981.1,1747.6 1981.5,1795.1 1981.7,1842.7" fill="none" stroke="#fdb462" stroke-width="5.7" stroke-dasharray="20 13"/>
<path d="M1982.5,1848C1987.9,1833.2 1993.6,1818.4 1998.8,1803.5C2005,1785.7 2010.8,1767.9 2016.6,1750C2022.7,1731.1 2028.7,1712.1 2034.4,1693C2039.4,1676.5 2044.1,1659.8 2048.7,1643.2C2051.8,1632 2054.6,1620.7 2057.7,1609.5C2064,1587 2070.8,1564.7 2077,1542.2C2082.6,1522 2087.1,1501.4 2093,1481.3C2097.8,1465.1 2103.7,1449.2 2109,1433.2C2112.2,1423.6 2115.7,1414.1 2118.6,1404.4C2122.1,1392.7 2124.5,1380.6 2128.2,1369C2133,1353.9 2138.6,1339 2144.3,1324.2C2149.3,1311.3 2154.6,1298.4 2160.3,1285.8C2165.2,1274.9 2170.1,1263.9 2176.3,1253.7C2180.8,1246.2 2185.7,1238.7 2192.3,1232.9C2197.2,1228.6 2203.5,1224.9 2210,1224.2C2215.1,1223.7 2220.2,1226.7 2224.4,1229.7C2230.6,1234.1 2235.5,1240 2240.4,1245.7C2245.6,1251.8 2250,1258.6 2254.8,1265C2256.4,1270.9 2258.2,1276.7 2259.6,1282.6C2286.6,1397.9 2313.1,1513.3 2339.8,1628.7L2384.6,1622.3C2384.1,1628.7 2384.4,1635.2 2383,1641.5C2380.1,1654.5 2376.4,1667.4 2371.8,1680C2366.2,1695.3 2359.6,1710.2 2352.6,1724.9C2346.8,1736.9 2340.3,1748.6 2333.4,1760C2327.4,1770 2319.8,1778.9 2314,1789C2308,1799.3 2303.8,1810.6 2298,1821C2294.2,1827.7 2289.9,1834.2 2285.3,1840.3C2281.4,1845.4 2276.8,1849.9 2272.5,1854.7" fill="none" stroke="#fdb462" stroke-width="6.4" stroke-linejoin="round" stroke-linecap="round"/>
<path d="M2062,1609L2075,1544" fill="none" stroke="#fdb462" stroke-width="12" stroke-linecap="round" stroke-linejoin="round"/>
<path d="M2083,1540L2095,1452" fill="none" stroke="#fdb462" stroke-width="12" stroke-linecap="round" stroke-linejoin="round"/>
<path d="M2105,1472L2114,1413" fill="none" stroke="#fdb462" stroke-width="10" stroke-linecap="round" stroke-linejoin="round"/>
<path d="M2268,1856.5L2212,1856.5" fill="none" stroke="#fdb462" stroke-width="3" stroke-linecap="round" stroke-linejoin="round"/>
<line x1="1528.8" y1="1295.2" x2="2118.6" y2="1295.2" stroke="#111" stroke-width="3" />
<line x1="2118.6" y1="1295.2" x2="2118.6" y2="1857.8" stroke="#111" stroke-width="3" />
<line x1="1528.8" y1="1095.5" x2="1528.8" y2="1859.4" stroke="#000" stroke-width="3.2" />
<line x1="1527.2" y1="1857.8" x2="2459" y2="1857.8" stroke="#000" stroke-width="3.2" />
<line x1="1573.3" y1="1857.8" x2="1573.3" y2="1843.4" stroke="#000" stroke-width="3" />
<line x1="1710" y1="1857.8" x2="1710" y2="1843.4" stroke="#000" stroke-width="3" />
<line x1="1845.6" y1="1857.8" x2="1845.6" y2="1843.4" stroke="#000" stroke-width="3" />
<line x1="1981.7" y1="1857.8" x2="1981.7" y2="1843.4" stroke="#000" stroke-width="3" />
<line x1="2118.6" y1="1857.8" x2="2118.6" y2="1843.4" stroke="#000" stroke-width="3" />
<line x1="2254.2" y1="1857.8" x2="2254.2" y2="1843.4" stroke="#000" stroke-width="3" />
<line x1="2390" y1="1857.8" x2="2390" y2="1843.4" stroke="#000" stroke-width="3" />
<line x1="1641.8" y1="1857.8" x2="1641.8" y2="1850.8" stroke="#000" stroke-width="3" />
<line x1="1778.6" y1="1857.8" x2="1778.6" y2="1850.8" stroke="#000" stroke-width="3" />
<line x1="1914.4" y1="1857.8" x2="1914.4" y2="1850.8" stroke="#000" stroke-width="3" />
<line x1="2050.5" y1="1857.8" x2="2050.5" y2="1850.8" stroke="#000" stroke-width="3" />
<line x1="2186.6" y1="1857.8" x2="2186.6" y2="1850.8" stroke="#000" stroke-width="3" />
<line x1="2322" y1="1857.8" x2="2322" y2="1850.8" stroke="#000" stroke-width="3" />
<line x1="2458.4" y1="1857.8" x2="2458.4" y2="1850.8" stroke="#000" stroke-width="3" />
<line x1="1528.8" y1="1688.4" x2="1543.2" y2="1688.4" stroke="#000" stroke-width="3.3" />
<line x1="1528.8" y1="1519.5" x2="1543.2" y2="1519.5" stroke="#000" stroke-width="3.3" />
<line x1="1528.8" y1="1351" x2="1543.2" y2="1351" stroke="#000" stroke-width="3.3" />
<line x1="1528.8" y1="1181.8" x2="1543.2" y2="1181.8" stroke="#000" stroke-width="3.3" />
<line x1="1528.8" y1="1772.5" x2="1535.8" y2="1772.5" stroke="#000" stroke-width="3.3" />
<line x1="1528.8" y1="1604" x2="1535.8" y2="1604" stroke="#000" stroke-width="3.3" />
<line x1="1528.8" y1="1435.5" x2="1535.8" y2="1435.5" stroke="#000" stroke-width="3.3" />
<line x1="1528.8" y1="1266.6" x2="1535.8" y2="1266.6" stroke="#000" stroke-width="3.3" />
<line x1="1528.8" y1="1097.5" x2="1535.8" y2="1097.5" stroke="#000" stroke-width="3.3" />
<circle cx="2118.6" cy="1295.2" r="12" fill="url(#gd)"/>
<text x="1513.3" y="1878.5" font-size="64" text-anchor="end" >0</text>
<text x="1513.3" y="1709.1" font-size="64" text-anchor="end" >50</text>
<text x="1513.3" y="1540.2" font-size="64" text-anchor="end" >100</text>
<text x="1513.3" y="1371.7" font-size="64" text-anchor="end" >150</text>
<text x="1513.3" y="1202.5" font-size="64" text-anchor="end" >200</text>
<text x="1572" y="1925.5" font-size="64" text-anchor="middle" >−1.8</text>
<text x="1708.7" y="1925.5" font-size="64" text-anchor="middle" >−1.2</text>
<text x="1844.3" y="1925.5" font-size="64" text-anchor="middle" >−0.6</text>
<text x="1980.4" y="1925.5" font-size="64" text-anchor="middle" >0.0</text>
<text x="2117.3" y="1925.5" font-size="64" text-anchor="middle" >0.6</text>
<text x="2252.9" y="1925.5" font-size="64" text-anchor="middle" >1.2</text>
<text x="2388.7" y="1925.5" font-size="64" text-anchor="middle" >1.8</text>
<text x="1993.6" y="2024.2" font-size="64" text-anchor="middle" >Axial strain <tspan font-style="italic">ε</tspan> / %</text>
<text transform="translate(1408.5,1526.5) rotate(-90)" font-size="64" text-anchor="middle">Axial stress <tspan font-style="italic">σ</tspan> / MPa</text>
<text x="1908" y="2125.7" font-size="90" text-anchor="middle">(<tspan font-weight="bold" stroke="none" dx="-0.5">d</tspan><tspan dx="-0.5">)</tspan></text>
<line x1="1557.5" y1="1136.4" x2="1669" y2="1136.4" stroke="#fdb462" stroke-width="5.3" stroke-linecap="round"/>
<line x1="1813.7" y1="1136.4" x2="1831.5" y2="1136.4" stroke="#fdb462" stroke-width="5.7" />
<line x1="1843.4" y1="1136.4" x2="1864.8" y2="1136.4" stroke="#fdb462" stroke-width="5.7" />
<line x1="1876.7" y1="1136.4" x2="1898" y2="1136.4" stroke="#fdb462" stroke-width="5.7" />
<line x1="1909.3" y1="1136.4" x2="1930" y2="1136.4" stroke="#fdb462" stroke-width="5.7" />
<circle cx="2094" cy="1136.4" r="2.8" fill="#fdb462"/>
<circle cx="2108.1" cy="1136.4" r="2.8" fill="#fdb462"/>
<circle cx="2122.3" cy="1136.4" r="2.8" fill="#fdb462"/>
<circle cx="2136.4" cy="1136.4" r="2.8" fill="#fdb462"/>
<circle cx="2150.6" cy="1136.4" r="2.8" fill="#fdb462"/>
<circle cx="2164.7" cy="1136.4" r="2.8" fill="#fdb462"/>
<circle cx="2178.9" cy="1136.4" r="2.8" fill="#fdb462"/>
<circle cx="2193" cy="1136.4" r="2.8" fill="#fdb462"/>
<text x="1683" y="1152.4" font-size="49" text-anchor="start" >Axial</text>
<text x="1939.5" y="1152.4" font-size="49" text-anchor="start" >Radial</text>
<text x="2218.5" y="1152.4" font-size="49" text-anchor="start" >Volumeteic</text>
</g>
<g id="panel-e">
<path d="M949.4,2918C952.9,2914.8 957.3,2912.2 960,2908.3C965.7,2900.2 969.3,2890.8 974.3,2882.3C979.4,2873.5 984.8,2864.9 990.3,2856.3C995.5,2848.2 1001.2,2840.5 1006.4,2832.4C1011.5,2824.4 1016.7,2816.5 1021.3,2808.2C1026,2799.8 1030.2,2791.2 1034.2,2782.5C1038.3,2773.7 1042,2764.8 1045.6,2755.8C1049.1,2747 1052.2,2737.9 1055.5,2729C1057.3,2724 1059.8,2719.2 1060.9,2714C1061.8,2709.6 1061.4,2705.1 1061.6,2700.6L1049.8,2703.4L1044.8,2692.7C1045.3,2682.9 1045.8,2673 1046.3,2663.2C1047,2648.9 1047.8,2634.7 1048.4,2620.4C1049.1,2605.2 1049.7,2590 1050.2,2574.8C1050.7,2560.3 1051.1,2545.9 1051.6,2531.4C1052.3,2511.8 1053,2492.2 1053.7,2472.6C1054.3,2453 1054.8,2433.4 1055.5,2413.8C1056.2,2394.8 1057.1,2375.8 1058,2356.8C1058.5,2346.7 1059.2,2336.6 1059.8,2326.5C1060.4,2317 1061,2307.5 1061.6,2298C1065.7,2296.2 1069.7,2294 1074,2292.6C1083.4,2289.5 1093,2287.1 1102.5,2284.4C1112,2281.7 1121.5,2279 1131,2276.6C1140.1,2274.3 1149.3,2272.3 1158.5,2270.2C1168,2268.1 1177.4,2265.8 1187,2264C1196.5,2262.2 1206,2260.8 1215.5,2259.5C1225,2258.2 1234.5,2257.2 1244,2256.3C1253.3,2255.4 1262.5,2254.8 1271.8,2254.2C1281.3,2253.6 1290.8,2253.1 1300.3,2252.7C1309.8,2252.3 1319.3,2252.1 1328.8,2252C1338.3,2251.9 1347.8,2251.6 1357.3,2252C1366.8,2252.4 1376.3,2253.2 1385.8,2254.2C1390.6,2254.7 1395.3,2255.3 1400,2256.3C1404.9,2257.4 1409.7,2258.8 1414.3,2260.6C1419.2,2262.6 1424.4,2264.4 1428.6,2267.7C1432.9,2271.1 1435.8,2275.9 1439,2280.3C1441.7,2284.1 1444.5,2287.9 1446.4,2292.2C1448.2,2296.2 1449.1,2300.7 1450,2305C1450.9,2309.7 1451.5,2314.5 1451.8,2319.3C1452.2,2324.9 1451.9,2330.4 1452,2336" fill="none" stroke="#00ff00" stroke-width="6.3" stroke-linecap="round" stroke-linejoin="round" stroke-dasharray="0.01 14.6"/>
<path d="M1449.8,2359.2C1449.2,2364.3 1448.7,2369.4 1448,2374.5C1447.3,2379.6 1446.4,2384.6 1445.7,2389.7C1445,2394.8 1444.8,2399.9 1444,2405C1443.1,2410.1 1441.8,2415.1 1440.6,2420.2C1439.5,2424.7 1438.3,2429.3 1437.2,2433.8" fill="none" stroke="#00ff00" stroke-width="6.3" stroke-linecap="round" stroke-linejoin="round" stroke-dasharray="0.01 14.6"/>
<path d="M1390,2620C1385.3,2636 1380.5,2651.9 1376,2668C1369.1,2692.6 1362.8,2717.4 1356,2742C1349.5,2765.4 1343,2788.8 1336,2812C1330.3,2830.8 1324,2849.3 1318,2868" fill="none" stroke="#00ff00" stroke-width="6.3" stroke-linecap="round" stroke-linejoin="round" stroke-dasharray="0.01 14.6"/>
<path d="M1427,2500L1438,2432" fill="none" stroke="#00ff00" stroke-width="5" stroke-linecap="round"/>
<path d="M967.2,2886.5L967.2,2917.2" fill="none" stroke="#00ff00" stroke-width="7" stroke-linecap="round" stroke-linejoin="round"/>
<path d="M967.2,2802.9L968,2842.5" fill="none" stroke="#00ff00" stroke-width="7" stroke-linecap="round" stroke-linejoin="round"/>
<path d="M967.3,2744.1L967.9,2771.1" fill="none" stroke="#00ff00" stroke-width="7" stroke-linecap="round" stroke-linejoin="round"/>
<path d="M970.3,2683.5L967.6,2701.5" fill="none" stroke="#00ff00" stroke-width="7" stroke-linecap="round" stroke-linejoin="round"/>
<path d="M979.3,2608.7L975.7,2639.3" fill="none" stroke="#00ff00" stroke-width="7" stroke-linecap="round" stroke-linejoin="round"/>
<path d="M990,2535.5L986,2564.5" fill="none" stroke="#00ff00" stroke-width="7" stroke-linecap="round" stroke-linejoin="round"/>
<path d="M1000.7,2460.8L996.7,2491.5" fill="none" stroke="#00ff00" stroke-width="7" stroke-linecap="round" stroke-linejoin="round"/>
<path d="M1011.4,2387.8L1007.3,2416.5" fill="none" stroke="#00ff00" stroke-width="7" stroke-linecap="round" stroke-linejoin="round"/>
<path d="M1022,2313L1017.4,2343.5" fill="none" stroke="#00ff00" stroke-width="7" stroke-linecap="round" stroke-linejoin="round"/>
<path d="M1052.5,2283.4L1077.1,2273.3" fill="none" stroke="#00ff00" stroke-width="7" stroke-linecap="round" stroke-linejoin="round"/>
<path d="M1121,2262.4L1148.3,2255.8" fill="none" stroke="#00ff00" stroke-width="7" stroke-linecap="round" stroke-linejoin="round"/>
<path d="M1192.4,2251.1L1221.2,2252.6" fill="none" stroke="#00ff00" stroke-width="7" stroke-linecap="round" stroke-linejoin="round"/>
<path d="M1262.4,2278.7L1277.6,2301.2" fill="none" stroke="#00ff00" stroke-width="7" stroke-linecap="round" stroke-linejoin="round"/>
<path d="M1287.4,2341.5L1292.1,2372.1" fill="none" stroke="#00ff00" stroke-width="7" stroke-linecap="round" stroke-linejoin="round"/>
<path d="M1294.1,2416.3L1301.9,2648.2" fill="none" stroke="#00ff00" stroke-width="7" stroke-linecap="round" stroke-linejoin="round"/>
<path d="M1302.1,2665.7L1303.1,2694.5" fill="none" stroke="#00ff00" stroke-width="7" stroke-linecap="round" stroke-linejoin="round"/>
<path d="M1303.2,2740.5L1303.9,2771.1" fill="none" stroke="#00ff00" stroke-width="7" stroke-linecap="round" stroke-linejoin="round"/>
<path d="M1303.9,2813.5L1304.6,2844.2" fill="none" stroke="#00ff00" stroke-width="7" stroke-linecap="round" stroke-linejoin="round"/>
<path d="M1304.6,2888.4L1304.6,2917.2" fill="none" stroke="#00ff00" stroke-width="7" stroke-linecap="round" stroke-linejoin="round"/>
<path d="M1305.6,2918C1310.5,2904.6 1315.8,2891.3 1320.3,2877.7C1327.5,2856.3 1334.2,2834.9 1340.7,2813.3C1347.8,2789.6 1354.4,2765.8 1361,2742C1367.9,2717.2 1374,2692.3 1381.3,2667.6C1385.3,2653.9 1390.8,2640.7 1394.9,2627C1401,2606.8 1406.5,2586.4 1411.8,2566C1417.2,2545.1 1421,2523.8 1427,2503C1430.4,2491 1435.9,2479.7 1440,2468C1444.4,2455.5 1448.7,2443.1 1452.5,2430.4C1455.1,2421.5 1456.4,2412.2 1459.2,2403.3C1462.1,2394.1 1465.8,2385.2 1469.4,2376.2C1474.9,2362.6 1480.3,2348.9 1486.4,2335.5C1491.6,2324 1497.2,2312.6 1503.3,2301.6C1508.5,2292.3 1513.7,2282.9 1520.2,2274.5C1525.1,2268.2 1530.5,2262 1537.2,2257.6C1542.7,2253.9 1549.2,2251.1 1555.8,2250.8C1562.2,2250.5 1568.6,2253.2 1574.4,2256C1581.8,2259.5 1588.5,2264.3 1594.8,2269.5C1601,2274.5 1606.1,2280.8 1611.7,2286.4C1615.7,2290.4 1619.6,2294.3 1623.6,2298.3C1625.9,2307.3 1628.2,2316.3 1630.4,2325.4C1660.4,2450.7 1690.2,2576.1 1720.1,2701.5C1722.1,2701.3 1724,2701.2 1726,2701C1729.1,2700.7 1732.3,2700.2 1735.4,2699.8C1735.4,2703.7 1736.1,2707.7 1735.4,2711.6C1733.8,2720.8 1731.6,2729.9 1728.6,2738.7C1724.3,2751.4 1719,2763.8 1713.4,2776C1707.1,2789.8 1700.3,2803.4 1693,2816.7C1686.7,2828.2 1679.8,2839.5 1672.7,2850.5C1667.4,2858.7 1661.1,2866.1 1655.8,2874.3C1649.8,2883.6 1644.9,2893.7 1638.8,2903C1635.3,2908.4 1630.9,2913.2 1627,2918.3" fill="none" stroke="#00ff00" stroke-width="6.8" stroke-linejoin="round" stroke-linecap="round"/>
<path d="M1392,2650L1402,2577" fill="none" stroke="#00ff00" stroke-width="12" stroke-linecap="round" stroke-linejoin="round"/>
<path d="M1416,2575L1427,2504" fill="none" stroke="#00ff00" stroke-width="12" stroke-linecap="round" stroke-linejoin="round"/>
<path d="M1443,2500L1450,2437" fill="none" stroke="#00ff00" stroke-width="8" stroke-linecap="round" stroke-linejoin="round"/>
<path d="M1622,2919.5L1548,2919.5" fill="none" stroke="#00ff00" stroke-width="3" stroke-linecap="round" stroke-linejoin="round"/>
<line x1="853" y1="2336.5" x2="1451.8" y2="2336.5" stroke="#111" stroke-width="3" />
<line x1="1451.8" y1="2336.5" x2="1451.8" y2="2920.2" stroke="#111" stroke-width="3" />
<line x1="853" y1="2160" x2="853" y2="2921.8" stroke="#000" stroke-width="3.2" />
<line x1="851.4" y1="2920.2" x2="1779" y2="2920.2" stroke="#000" stroke-width="3.2" />
<line x1="898.4" y1="2920.2" x2="898.4" y2="2905.8" stroke="#000" stroke-width="3" />
<line x1="1034" y1="2920.2" x2="1034" y2="2905.8" stroke="#000" stroke-width="3" />
<line x1="1169.5" y1="2920.2" x2="1169.5" y2="2905.8" stroke="#000" stroke-width="3" />
<line x1="1304.6" y1="2920.2" x2="1304.6" y2="2905.8" stroke="#000" stroke-width="3" />
<line x1="1440" y1="2920.2" x2="1440" y2="2905.8" stroke="#000" stroke-width="3" />
<line x1="1575.5" y1="2920.2" x2="1575.5" y2="2905.8" stroke="#000" stroke-width="3" />
<line x1="1710.7" y1="2920.2" x2="1710.7" y2="2905.8" stroke="#000" stroke-width="3" />
<line x1="966" y1="2920.2" x2="966" y2="2913.2" stroke="#000" stroke-width="3" />
<line x1="1101.8" y1="2920.2" x2="1101.8" y2="2913.2" stroke="#000" stroke-width="3" />
<line x1="1236.9" y1="2920.2" x2="1236.9" y2="2913.2" stroke="#000" stroke-width="3" />
<line x1="1372.3" y1="2920.2" x2="1372.3" y2="2913.2" stroke="#000" stroke-width="3" />
<line x1="1507.7" y1="2920.2" x2="1507.7" y2="2913.2" stroke="#000" stroke-width="3" />
<line x1="1643.2" y1="2920.2" x2="1643.2" y2="2913.2" stroke="#000" stroke-width="3" />
<line x1="1777.7" y1="2920.2" x2="1777.7" y2="2913.2" stroke="#000" stroke-width="3" />
<line x1="853" y1="2751.5" x2="867.4" y2="2751.5" stroke="#000" stroke-width="3.3" />
<line x1="853" y1="2582.3" x2="867.4" y2="2582.3" stroke="#000" stroke-width="3.3" />
<line x1="853" y1="2413.8" x2="867.4" y2="2413.8" stroke="#000" stroke-width="3.3" />
<line x1="853" y1="2244.5" x2="867.4" y2="2244.5" stroke="#000" stroke-width="3.3" />
<line x1="853" y1="2835" x2="860" y2="2835" stroke="#000" stroke-width="3.3" />
<line x1="853" y1="2666" x2="860" y2="2666" stroke="#000" stroke-width="3.3" />
<line x1="853" y1="2497.5" x2="860" y2="2497.5" stroke="#000" stroke-width="3.3" />
<line x1="853" y1="2329" x2="860" y2="2329" stroke="#000" stroke-width="3.3" />
<line x1="853" y1="2161.5" x2="860" y2="2161.5" stroke="#000" stroke-width="3.3" />
<circle cx="1451.8" cy="2336.5" r="12" fill="url(#ge)"/>
<text x="837.5" y="2940.9" font-size="64" text-anchor="end" >0</text>
<text x="837.5" y="2772.2" font-size="64" text-anchor="end" >50</text>
<text x="837.5" y="2603" font-size="64" text-anchor="end" >100</text>
<text x="837.5" y="2434.5" font-size="64" text-anchor="end" >150</text>
<text x="837.5" y="2265.2" font-size="64" text-anchor="end" >200</text>
<text x="897.1" y="2987.9" font-size="64" text-anchor="middle" >−1.8</text>
<text x="1032.7" y="2987.9" font-size="64" text-anchor="middle" >−1.2</text>
<text x="1168.2" y="2987.9" font-size="64" text-anchor="middle" >−0.6</text>
<text x="1303.3" y="2987.9" font-size="64" text-anchor="middle" >0.0</text>
<text x="1438.7" y="2987.9" font-size="64" text-anchor="middle" >0.6</text>
<text x="1574.2" y="2987.9" font-size="64" text-anchor="middle" >1.2</text>
<text x="1709.4" y="2987.9" font-size="64" text-anchor="middle" >1.8</text>
<text x="1315.6" y="3086.7" font-size="64" text-anchor="middle" >Axial strain <tspan font-style="italic">ε</tspan> / %</text>
<text transform="translate(732.4,2591) rotate(-90)" font-size="64" text-anchor="middle">Axial stress <tspan font-style="italic">σ</tspan> / MPa</text>
<text x="1227.2" y="3175.4" font-size="90" text-anchor="middle">(<tspan font-weight="bold" stroke="none" dx="-1.5">e</tspan><tspan dx="-1.5">)</tspan></text>
<line x1="877.5" y1="2202.4" x2="989" y2="2202.4" stroke="#00ff00" stroke-width="5.8" stroke-linecap="round"/>
<line x1="1132" y1="2202.4" x2="1168.5" y2="2202.4" stroke="#00ff00" stroke-width="5.8" stroke-linecap="round"/>
<line x1="1209" y1="2202.4" x2="1242" y2="2202.4" stroke="#00ff00" stroke-width="5.8" stroke-linecap="round"/>
<circle cx="1411" cy="2202.4" r="2.8" fill="#00ff00"/>
<circle cx="1425.1" cy="2202.4" r="2.8" fill="#00ff00"/>
<circle cx="1439.3" cy="2202.4" r="2.8" fill="#00ff00"/>
<circle cx="1453.4" cy="2202.4" r="2.8" fill="#00ff00"/>
<circle cx="1467.6" cy="2202.4" r="2.8" fill="#00ff00"/>
<circle cx="1481.7" cy="2202.4" r="2.8" fill="#00ff00"/>
<circle cx="1495.9" cy="2202.4" r="2.8" fill="#00ff00"/>
<circle cx="1510" cy="2202.4" r="2.8" fill="#00ff00"/>
<text x="1003" y="2218.4" font-size="49" text-anchor="start" >Axial</text>
<text x="1256.5" y="2218.4" font-size="49" text-anchor="start" >Radial</text>
<text x="1535.5" y="2218.4" font-size="49" text-anchor="start" >Volumeteic</text>
</g>
</svg>
</body></html>
